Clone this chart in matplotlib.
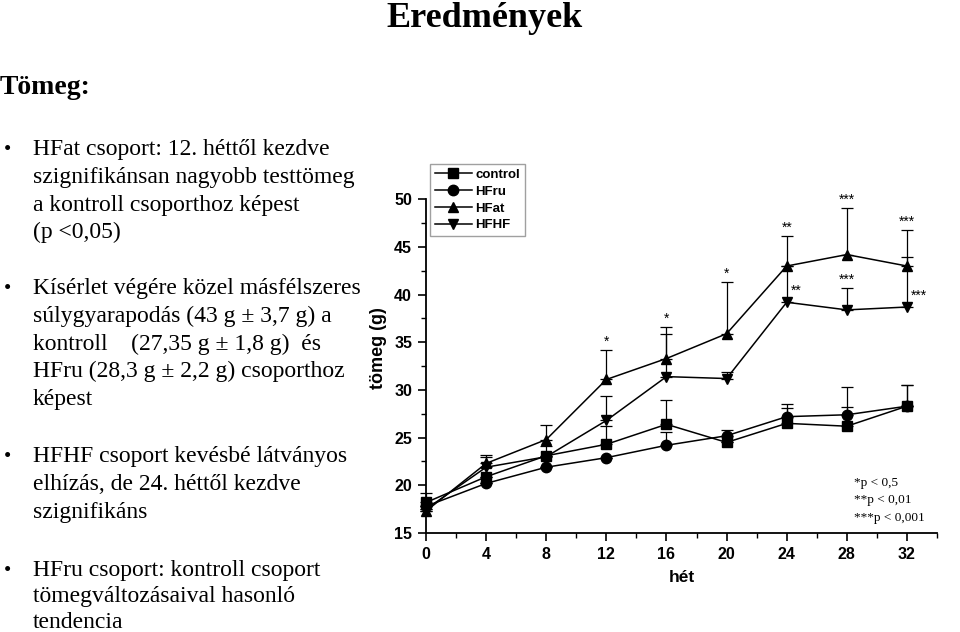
import matplotlib
matplotlib.use("Agg")
import matplotlib.pyplot as plt
from matplotlib.ticker import MultipleLocator, FixedLocator

# ---------------- data ----------------
weeks = [0, 4, 8, 12, 16, 20, 24, 28, 32]
control = [18.2, 20.9, 23.1, 24.3, 26.4, 24.5, 26.5, 26.2, 28.3]
hfru = [17.8, 20.2, 21.9, 22.9, 24.2, 25.2, 27.2, 27.4, 28.3]
hfat = [17.3, 22.3, 24.8, 31.1, 33.3, 35.9, 43.0, 44.2, 43.0]
hfhf = [17.5, 21.9, 23.0, 26.8, 31.4, 31.2, 39.2, 38.4, 38.7]
control_sd = [1.0, 0.0, 0.0, 1.9, 2.6, 0.0, 1.6, 2.0, 2.2]
hfru_sd = [0.0, 0.0, 0.0, 0.0, 1.4, 0.6, 1.3, 2.9, 2.2]
hfat_sd = [0.0, 0.9, 1.5, 3.1, 3.3, 5.4, 3.1, 4.9, 3.8]
hfhf_sd = [0.0, 1.1, 1.1, 2.6, 4.5, 0.7, 3.8, 2.3, 5.2]
series_names = ["control", "HFru", "HFat", "HFHF"]
hfat_stars = ["", "", "", "*", "*", "*", "**", "***", "***"]
hfhf_stars = ["", "", "", "", "", "", "**", "***", "***"]
footnotes = ["*p < 0,5", "**p < 0,01", "***p < 0,001"]

title = "Eredmények"
subtitle = "Tömeg:"
bullets = [
    ["HFat csoport: 12. héttől kezdve",
     "szignifikánsan nagyobb testtömeg",
     "a kontroll csoporthoz képest",
     "(p <0,05)"],
    ["Kísérlet végére közel másfélszeres",
     "súlygyarapodás (43 g ± 3,7 g) a",
     "kontroll    (27,35 g ± 1,8 g)  és",
     "HFru (28,3 g ± 2,2 g) csoporthoz",
     "képest"],
    ["HFHF csoport kevésbé látványos",
     "elhízás, de 24. héttől kezdve",
     "szignifikáns"],
    ["HFru csoport: kontroll csoport",
     "tömegváltozásaival hasonló",
     "tendencia"],
]

W, H = 960, 632
fig = plt.figure(figsize=(W / 100, H / 100), dpi=100)
fig.patch.set_facecolor("white")

serif = ["Liberation Serif", "DejaVu Serif"]
sans = ["Liberation Sans", "DejaVu Sans"]

def px(x, y):
    return x / W, 1 - y / H

fig.text(*px(485, 27), title, fontsize=26, fontweight="bold", family=serif,
         ha="center", va="baseline")
fig.text(*px(0, 94), subtitle, fontsize=20, fontweight="bold", family=serif,
         ha="left", va="baseline")

block_starts = [155, 294, 462, 576]
line_h = [27.8, 27.8, 27.8, 26.0]
for start, lh, lines in zip(block_starts, line_h, bullets):
    fig.text(*px(4, start), "•", fontsize=15, family=serif, ha="left", va="baseline")
    for i, ln in enumerate(lines):
        fig.text(*px(33, start + i * lh), ln, fontsize=17, family=serif,
                 ha="left", va="baseline")

# ---------------- chart ----------------
ax = fig.add_axes([426 / W, (H - 533) / H, (937 - 426) / W, (533 - 164) / H])
ax.set_xlim(0, 34)
ax.set_ylim(15, 53.7)

styles = [("s", control, control_sd), ("o", hfru, hfru_sd),
          ("^", hfat, hfat_sd), ("v", hfhf, hfhf_sd)]
handles = []
for (mk, vals, sd), name in zip(styles, series_names):
    ax.errorbar(weeks, vals, yerr=[[0] * len(sd), sd], fmt="none",
                ecolor="black", elinewidth=0.9, capsize=4, capthick=0.9,
                clip_on=False, zorder=2)
    h, = ax.plot(weeks, vals, marker=mk, color="black", lw=1.1, ms=7.5,
                 mfc="black", mec="black", clip_on=False, zorder=3, label=name)
    handles.append(h)

star_kw = dict(fontsize=10, family=sans, textcoords="offset points")
for x, v, s, st in zip(weeks, hfat, hfat_sd, hfat_stars):
    if st:
        ax.annotate(st, (x, v + s), xytext=(0, 1), ha="center", va="bottom", **star_kw)
for x, v, s, st in zip(weeks, hfhf, hfhf_sd, hfhf_stars):
    if st:
        if x == 28:
            ax.annotate(st, (x, v + s), xytext=(0, 1), ha="center", va="bottom", **star_kw)
        else:
            ax.annotate(st, (x, v), xytext=(3, 3), ha="left", va="bottom", **star_kw)

for i, t in enumerate(footnotes):
    ax.text(0.837, 0.127 - i * 0.047, t, transform=ax.transAxes, fontsize=9.5,
            family=serif, ha="left", va="baseline")

ax.spines["top"].set_visible(False)
ax.spines["right"].set_visible(False)
ax.spines["left"].set_bounds(15, 50)
for s in ("left", "bottom"):
    ax.spines[s].set_linewidth(1.3)

ax.set_xticks(weeks)
ax.xaxis.set_minor_locator(MultipleLocator(2))
ax.set_yticks([15, 20, 25, 30, 35, 40, 45, 50])
ax.yaxis.set_minor_locator(FixedLocator([17.5, 22.5, 27.5, 32.5, 37.5, 42.5, 47.5]))
ax.tick_params(which="major", direction="out", length=6, width=1.2,
               labelsize=11.5, pad=4)
ax.tick_params(which="minor", direction="out", length=3.5, width=1.0)
for lab in ax.get_xticklabels() + ax.get_yticklabels():
    lab.set_fontweight("bold")
    lab.set_family(sans)

ax.set_xlabel("hét", fontsize=12.5, fontweight="bold", family=sans, labelpad=6)
ax.set_ylabel("tömeg (g)", fontsize=13, fontweight="bold", family=sans, labelpad=5)

leg = ax.legend(handles=handles, loc="upper left", bbox_to_anchor=(0.008, 1.0),
                frameon=True, fancybox=False, handlelength=2.8, handletextpad=0.3,
                labelspacing=0.35, borderpad=0.35, borderaxespad=0.0,
                prop={"family": sans, "weight": "bold", "size": 9.5})
leg.get_frame().set_edgecolor("#888888")
leg.get_frame().set_linewidth(1.0)

fig.savefig("out.png", dpi=100, facecolor="white")
